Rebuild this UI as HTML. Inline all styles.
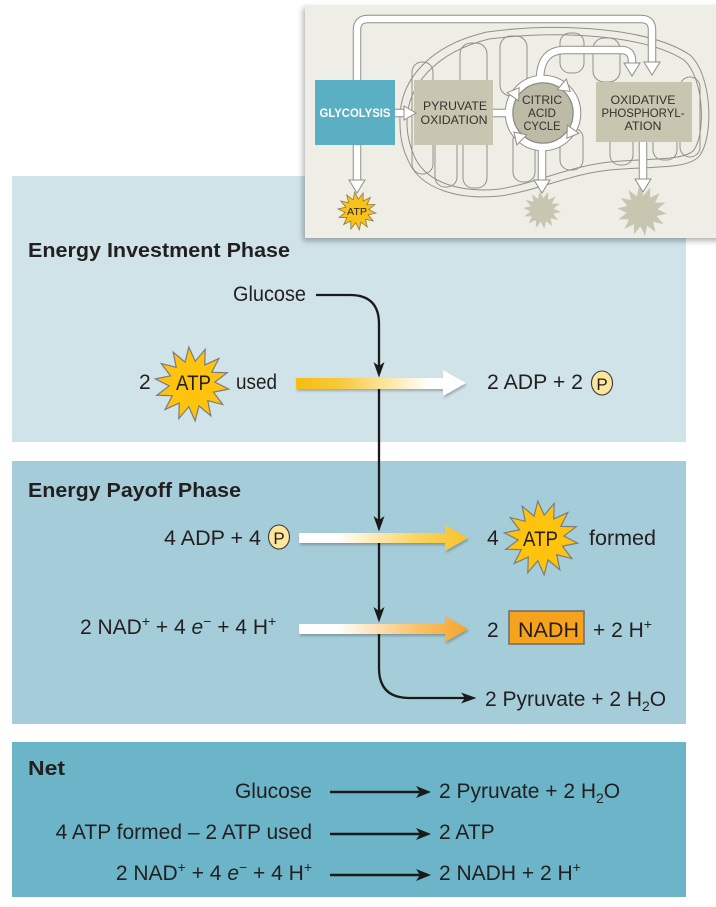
<!DOCTYPE html>
<html><head><meta charset="utf-8"><style>
html,body{margin:0;padding:0;background:#fff;}
svg{display:block;}
text{font-family:"Liberation Sans",sans-serif;fill:#231f20;}
</style></head><body>
<svg width="716" height="907" viewBox="0 0 716 907" xmlns="http://www.w3.org/2000/svg">
<defs>
<polygon id="star" vector-effect="non-scaling-stroke" points="100,0 60.4,13.8 90.1,43.4 48.5,38.7 62.4,78.2 26.9,55.9 22.3,97.5 0,62 -22.3,97.5 -26.9,55.9 -62.4,78.2 -48.5,38.7 -90.1,43.4 -60.4,13.8 -100,0 -60.4,-13.8 -90.1,-43.4 -48.5,-38.7 -62.4,-78.2 -26.9,-55.9 -22.3,-97.5 0,-62 22.3,-97.5 26.9,-55.9 62.4,-78.2 48.5,-38.7 90.1,-43.4 60.4,-13.8"/>
<linearGradient id="g1" gradientUnits="userSpaceOnUse" x1="296" y1="0" x2="466" y2="0">
<stop offset="0" stop-color="#f6bd12"/><stop offset="0.25" stop-color="#f8c838"/><stop offset="0.78" stop-color="#ffffff"/><stop offset="1" stop-color="#ffffff"/></linearGradient>
<linearGradient id="g2" gradientUnits="userSpaceOnUse" x1="299" y1="0" x2="468" y2="0">
<stop offset="0" stop-color="#ffffff"/><stop offset="0.22" stop-color="#ffffff"/><stop offset="0.7" stop-color="#fbd35f"/><stop offset="1" stop-color="#f8c22c"/></linearGradient>
<linearGradient id="g3" gradientUnits="userSpaceOnUse" x1="299" y1="0" x2="468" y2="0">
<stop offset="0" stop-color="#ffffff"/><stop offset="0.22" stop-color="#ffffff"/><stop offset="0.7" stop-color="#f9c26a"/><stop offset="1" stop-color="#f5a42c"/></linearGradient>
<filter id="sh" x="-10%" y="-10%" width="120%" height="130%"><feDropShadow dx="-2" dy="3" stdDeviation="3" flood-color="#000" flood-opacity="0.3"/></filter>
<filter id="sh2" x="-5%" y="-30%" width="110%" height="180%"><feDropShadow dx="1" dy="2" stdDeviation="1.2" flood-color="#000" flood-opacity="0.25"/></filter>
</defs>

<!-- panels -->
<rect x="12" y="176" width="674" height="266" fill="#cfe3e9"/>
<rect x="12" y="461" width="674" height="263" fill="#a5cdd9"/>
<rect x="12" y="742" width="674" height="155" fill="#6cb4c7"/>

<!-- inset -->
<rect x="305" y="5" width="420" height="233" fill="#efeee6" filter="url(#sh)"/>
<g fill="none" stroke="#909089" stroke-width="1">
<path d="M400,123 C398,80 430,45 487,32 C560,22 650,28 690,55 C712,75 714,135 700,155 C690,170 650,166 610,170 C570,174 540,190 500,196 C460,200 420,190 408,160 C402,148 400,135 400,123 Z"/>
<path d="M407,123 C406,86 436,52 489,39 C560,30 645,35 684,60 C704,78 706,132 694,150 C684,161 650,158 610,162 C570,166 540,182 500,189 C463,193 428,184 415,158 C410,147 407,135 407,123 Z"/>
<rect x="412" y="62" width="21" height="112" rx="10"/>
<rect x="460" y="43" width="27" height="95" rx="11"/>
<rect x="500" y="36" width="27" height="60" rx="11"/>
<rect x="560" y="33" width="24" height="40" rx="10"/>
<rect x="593" y="38" width="27" height="44" rx="11"/>
<rect x="680" y="77" width="20" height="80" rx="10"/>
<rect x="435" y="135" width="22" height="52" rx="10"/>
<rect x="463" y="130" width="24" height="58" rx="10"/>
<rect x="513" y="130" width="22" height="52" rx="10"/>
<rect x="560" y="128" width="23" height="42" rx="10"/>
<rect x="610" y="128" width="23" height="37" rx="10"/>
<rect x="653" y="128" width="24" height="32" rx="10"/>
</g>
<!-- inset connectors outline -->
<g fill="none" stroke="#8f8f87" stroke-width="8.5">
<path d="M357,181 V30 Q357,19 368,19 H641 Q652,19 652,30 V63"/>
<path d="M395,113 H405"/>
<path d="M492,113 H507"/>
<path d="M540,80 Q540,50 565,50 H621 Q632,50 632,61 V64"/>
<path d="M542,146 V181"/>
<path d="M643,140 V180"/>
<circle cx="543" cy="113" r="34"/>
</g>
<g fill="none" stroke="#ffffff" stroke-width="6.5">
<path d="M357,181 V30 Q357,19 368,19 H641 Q652,19 652,30 V63"/>
<path d="M395,113 H405"/>
<path d="M492,113 H507"/>
<path d="M540,80 Q540,50 565,50 H621 Q632,50 632,61 V64"/>
<path d="M542,146 V181"/>
<path d="M643,140 V180"/>
<circle cx="543" cy="113" r="34"/>
</g>
<!-- boxes -->
<rect x="315" y="80" width="80" height="65" fill="#5aafc3"/>
<rect x="414" y="80" width="79" height="65" fill="#c8c5b0"/>
<rect x="596" y="82" width="96" height="60" fill="#c8c5b0"/>
<circle cx="543" cy="113" r="30" fill="#bdbaa5" stroke="#8a8a82" stroke-width="1"/>
<!-- inset arrowheads -->
<g fill="#ffffff" stroke="#8f8f87" stroke-width="1">
<polygon points="349,180 365,180 357,193"/>
<polygon points="644,62 660,62 652,75"/>
<polygon points="404,106 404,120 416,113"/>
<polygon points="624,63 640,63 632,76"/>
<polygon points="534,180 550,180 542,193"/>
<polygon points="635,179 651,179 643,192"/>
<g transform="translate(543,113)">
<polygon points="7,0 -4,-7 -4,7" transform="rotate(-50) translate(34,0) rotate(90)"/>
<polygon points="7,0 -4,-7 -4,7" transform="rotate(35) translate(34,0) rotate(90)"/>
<polygon points="7,0 -4,-7 -4,7" transform="rotate(135) translate(34,0) rotate(90)"/>
<polygon points="7,0 -4,-7 -4,7" transform="rotate(215) translate(34,0) rotate(90)"/>
</g>
</g>
<!-- inset labels -->
<text x="355" y="117" font-size="12" font-weight="bold" text-anchor="middle" textLength="71" lengthAdjust="spacingAndGlyphs" style="fill:#ffffff">GLYCOLYSIS</text>
<g font-size="12" text-anchor="middle">
<text x="455" y="110" textLength="64" lengthAdjust="spacingAndGlyphs" style="fill:#34322b">PYRUVATE</text>
<text x="454" y="124" textLength="67" lengthAdjust="spacingAndGlyphs" style="fill:#34322b">OXIDATION</text>
<text x="542" y="104" textLength="40" lengthAdjust="spacingAndGlyphs" style="fill:#34322b">CITRIC</text>
<text x="542" y="117" textLength="28" lengthAdjust="spacingAndGlyphs" style="fill:#34322b">ACID</text>
<text x="542" y="130" textLength="37" lengthAdjust="spacingAndGlyphs" style="fill:#34322b">CYCLE</text>
<text x="643" y="104" textLength="65" lengthAdjust="spacingAndGlyphs" style="fill:#34322b">OXIDATIVE</text>
<text x="643" y="117" textLength="83" lengthAdjust="spacingAndGlyphs" style="fill:#34322b">PHOSPHORYL-</text>
<text x="643" y="130" textLength="37" lengthAdjust="spacingAndGlyphs" style="fill:#34322b">ATION</text>
</g>
<use href="#star" transform="translate(357,211) scale(0.19) rotate(6)" fill="#f9c21a" stroke="#8a7a40" stroke-width="0.8"/>
<text x="357" y="215" font-size="10.5" text-anchor="middle" textLength="20" lengthAdjust="spacingAndGlyphs">ATP</text>
<use href="#star" transform="translate(542,210) scale(0.19) rotate(6)" fill="#c8c5b0"/>
<use href="#star" transform="translate(642,211) scale(0.25) rotate(6)" fill="#c8c5b0"/>

<!-- black pathway line -->
<g fill="none" stroke="#1a1a1a" stroke-width="2.3">
<path d="M316,295 H350 Q379,295 379,324 V368"/>
<path d="M379,388 V522"/>
<path d="M379,543 V613"/>
<path d="M379,634 V668 Q379,698 409,698 H466"/>
</g>
<g fill="#1a1a1a">
<path d="M373.5,362 L379,377.5 L384.5,362 L379,366 Z"/>
<path d="M373.5,516 L379,531.5 L384.5,516 L379,520 Z"/>
<path d="M373.5,607 L379,622.5 L384.5,607 L379,611 Z"/>
<path d="M461,692.5 L476.5,698 L461,703.5 L465,698 Z"/>
</g>

<!-- gradient arrows -->
<path d="M296,378 H443 V370 L466,383 L443,396 V389 H296 Z" fill="url(#g1)" filter="url(#sh2)"/>
<path d="M299,533 H445 V525 L468,538 L445,551 V543 H299 Z" fill="url(#g2)" filter="url(#sh2)"/>
<path d="M299,624 H445 V616 L468,629 L445,642 V634 H299 Z" fill="url(#g3)" filter="url(#sh2)"/>

<!-- panel 1 text -->
<text x="28" y="257" font-size="20" font-weight="bold" textLength="262" lengthAdjust="spacingAndGlyphs">Energy Investment Phase</text>
<text x="233" y="301" font-size="21" textLength="73" lengthAdjust="spacingAndGlyphs">Glucose</text>
<text x="139" y="389" font-size="21">2</text>
<use href="#star" transform="translate(192,384) scale(0.37) rotate(8)" fill="#fdc30f" stroke="#7c7c7c" stroke-width="1.2"/>
<text x="176" y="390" font-size="21" textLength="35" lengthAdjust="spacingAndGlyphs">ATP</text>
<text x="236" y="389" font-size="21" textLength="41" lengthAdjust="spacingAndGlyphs">used</text>
<text x="487" y="389" font-size="21" textLength="96" lengthAdjust="spacingAndGlyphs">2 ADP + 2</text>
<ellipse cx="602" cy="383" rx="10.5" ry="12" fill="#fde69c" stroke="#3a3a3a" stroke-width="1.1"/>
<text x="602" y="390" font-size="17" text-anchor="middle">P</text>

<!-- panel 2 text -->
<text x="28" y="497" font-size="20" font-weight="bold" textLength="213" lengthAdjust="spacingAndGlyphs">Energy Payoff Phase</text>
<text x="164" y="545" font-size="21" textLength="97" lengthAdjust="spacingAndGlyphs">4 ADP + 4</text>
<ellipse cx="279" cy="537" rx="10.5" ry="12" fill="#fde69c" stroke="#3a3a3a" stroke-width="1.1"/>
<text x="279" y="544" font-size="17" text-anchor="middle">P</text>
<text x="487" y="545" font-size="21">4</text>
<use href="#star" transform="translate(541,538) scale(0.37) rotate(8)" fill="#fdc30f" stroke="#7c7c7c" stroke-width="1.2"/>
<text x="523" y="546" font-size="21" textLength="35" lengthAdjust="spacingAndGlyphs">ATP</text>
<text x="589" y="545" font-size="21" textLength="67" lengthAdjust="spacingAndGlyphs">formed</text>

<text x="80" y="634" font-size="21"><tspan>2 NAD</tspan><tspan dy="-8" font-size="14">+</tspan><tspan dy="8"> +  4 </tspan><tspan font-style="italic">e</tspan><tspan dy="-8" font-size="14">−</tspan><tspan dy="8"> + 4 H</tspan><tspan dy="-8" font-size="14">+</tspan></text>
<text x="487" y="637" font-size="21">2</text>
<rect x="509" y="611" width="75" height="33" fill="#f7a21c" stroke="#6d6d6d" stroke-width="1.5"/>
<text x="518" y="637" font-size="21" textLength="61" lengthAdjust="spacingAndGlyphs">NADH</text>
<text x="593" y="637" font-size="21"><tspan>+ 2 H</tspan><tspan dy="-8" font-size="14">+</tspan></text>
<text x="485" y="706" font-size="21"><tspan>2 Pyruvate + 2 H</tspan><tspan dy="5" font-size="14">2</tspan><tspan dy="-5">O</tspan></text>

<!-- panel 3 -->
<text x="28" y="775" font-size="20" font-weight="bold" textLength="37" lengthAdjust="spacingAndGlyphs">Net</text>
<text x="312" y="798" font-size="21" text-anchor="end">Glucose</text>
<text x="312" y="839" font-size="21" text-anchor="end">4 ATP formed – 2 ATP used</text>
<text x="312" y="880" font-size="21" text-anchor="end"><tspan>2 NAD</tspan><tspan dy="-8" font-size="14">+</tspan><tspan dy="8"> +  4 </tspan><tspan font-style="italic">e</tspan><tspan dy="-8" font-size="14">−</tspan><tspan dy="8"> + 4 H</tspan><tspan dy="-8" font-size="14">+</tspan></text>
<g stroke="#1a1a1a" stroke-width="2.5">
<line x1="330" y1="792" x2="422" y2="792"/>
<line x1="330" y1="834" x2="422" y2="834"/>
<line x1="330" y1="875" x2="422" y2="875"/>
</g>
<g fill="#1a1a1a">
<path d="M416,786 L431,792 L416,798 L420,792 Z"/>
<path d="M416,828 L431,834 L416,840 L420,834 Z"/>
<path d="M416,869 L431,875 L416,881 L420,875 Z"/>
</g>
<text x="439" y="798" font-size="21"><tspan>2 Pyruvate + 2 H</tspan><tspan dy="5" font-size="14">2</tspan><tspan dy="-5">O</tspan></text>
<text x="439" y="839" font-size="21">2 ATP</text>
<text x="439" y="880" font-size="21"><tspan>2 NADH + 2 H</tspan><tspan dy="-8" font-size="14">+</tspan></text>
</svg>
</body></html>
